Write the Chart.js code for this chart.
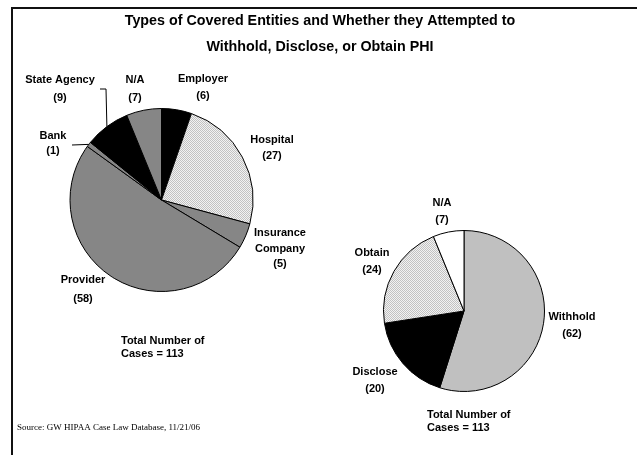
<!DOCTYPE html>
<html>
<head>
<meta charset="utf-8">
<script src="https://cdn.jsdelivr.net/npm/chart.js@4.4.0/dist/chart.umd.min.js"></script>
<style>
  html, body { margin: 0; padding: 0; background: #fff; }
  #wrap { position: relative; width: 637px; height: 455px; overflow: hidden; }
  #wrap canvas { position: absolute; left: 0; top: 0; }
  #frame { position: absolute; left: 11px; top: 7px; width: 700px; height: 500px;
           border-top: 2px solid #111; border-left: 2px solid #111; }
</style>
</head>
<body>
<div id="wrap">
  <div id="frame"></div>
  <canvas id="entityChart" width="637" height="455"></canvas>
  <canvas id="actionChart" width="637" height="455"></canvas>
</div>
<script>
// Data
const entityLabels = ["Employer", "Hospital", "Insurance Company", "Provider", "Bank", "State Agency", "N/A"];
const entityCounts = [6, 27, 5, 58, 1, 9, 7];
const actionLabels = ["Withhold", "Disclose", "Obtain", "N/A"];
const actionCounts = [62, 20, 24, 7];
const titleLines = ["Types of Covered Entities and Whether they Attempted to", "Withhold, Disclose, or Obtain PHI"];
const totalLines = ["Total Number of", "Cases = 113"];
const sourceText = "Source: GW HIPAA Case Law Database, 11/21/06";

// dotted fill used for Hospital / Obtain
function makeDots() {
    const c = document.createElement("canvas");
    c.width = 2; c.height = 2;
    const g = c.getContext("2d");
    g.fillStyle = "#f2f2f2";
    g.fillRect(0, 0, 2, 2);
    g.fillStyle = "#c2c2c2";
    g.fillRect(0, 0, 1, 1);
    g.fillRect(1, 1, 1, 1);
    return g.createPattern(c, "repeat");
}
const dots = makeDots();

const entityColors = ["#000000", dots, "#868686", "#868686", "#868686", "#000000", "#868686"];
const actionColors = ["#c0c0c0", "#000000", dots, "#ffffff"];

// label placement (center x, first line y, line gap)
const entityText = [
    { lines: ["Employer", "(6)"], x: 203, y: 79, gap: 17 },
    { lines: ["Hospital", "(27)"], x: 272, y: 140, gap: 16 },
    { lines: ["Insurance", "Company", "(5)"], x: 280, y: 233, gap: 15.5 },
    { lines: ["Provider", "(58)"], x: 83, y: 280, gap: 19 },
    { lines: ["Bank", "(1)"], x: 53, y: 136, gap: 15 },
    { lines: ["State Agency", "(9)"], x: 60, y: 80, gap: 18 },
    { lines: ["N/A", "(7)"], x: 135, y: 80, gap: 18 }
];
const actionText = [
    { lines: ["Withhold", "(62)"], x: 572, y: 317, gap: 17 },
    { lines: ["Disclose", "(20)"], x: 375, y: 372, gap: 17 },
    { lines: ["Obtain", "(24)"], x: 372, y: 253, gap: 17 },
    { lines: ["N/A", "(7)"], x: 442, y: 203, gap: 17 }
];
// leader lines: index of slice, points leading to the slice edge
const entityLeaders = [
    { index: 5, points: [[100, 89], [106, 89]] },
    { index: 4, points: [[72, 145]] }
];

const LABEL_FONT = "bold 11px 'Liberation Sans', Arial, sans-serif";

function drawLines(ctx, items) {
    ctx.save();
    ctx.fillStyle = "#000";
    ctx.font = LABEL_FONT;
    ctx.textAlign = "center";
    ctx.textBaseline = "middle";
    items.forEach(t => {
        t.lines.forEach((s, i) => ctx.fillText(s, t.x, t.y + i * t.gap));
    });
    ctx.restore();
}

function drawTotal(ctx, x, y) {
    ctx.save();
    ctx.fillStyle = "#000";
    ctx.font = LABEL_FONT;
    ctx.textAlign = "left";
    ctx.textBaseline = "middle";
    totalLines.forEach((s, i) => ctx.fillText(s, x, y + i * 12.5));
    ctx.restore();
}

const entityPlugin = {
    id: "entityText",
    afterDraw(chart) {
        const ctx = chart.ctx;
        // title
        ctx.save();
        ctx.fillStyle = "#000";
        ctx.font = "bold 14.3px 'Liberation Sans', Arial, sans-serif";
        ctx.textAlign = "center";
        ctx.textBaseline = "middle";
        ctx.fillText(titleLines[0], 320, 21);
        ctx.fillText(titleLines[1], 320, 47);
        // source
        ctx.font = "9px 'Liberation Serif', 'Times New Roman', serif";
        ctx.textAlign = "left";
        ctx.fillText(sourceText, 17, 428);
        ctx.restore();

        drawLines(ctx, entityText);
        drawTotal(ctx, 121, 341);

        // leader lines to slice edges
        const meta = chart.getDatasetMeta(0);
        ctx.save();
        ctx.strokeStyle = "#000";
        ctx.lineWidth = 1;
        entityLeaders.forEach(l => {
            const arc = meta.data[l.index];
            const p = arc.getProps(["x", "y", "startAngle", "endAngle", "outerRadius"], true);
            const mid = (p.startAngle + p.endAngle) / 2;
            const ex = p.x + Math.cos(mid) * p.outerRadius;
            const ey = p.y + Math.sin(mid) * p.outerRadius;
            ctx.beginPath();
            ctx.moveTo(l.points[0][0], l.points[0][1]);
            l.points.slice(1).forEach(pt => ctx.lineTo(pt[0], pt[1]));
            ctx.lineTo(ex, ey);
            ctx.stroke();
        });
        ctx.restore();
    }
};

const actionPlugin = {
    id: "actionText",
    afterDraw(chart) {
        drawLines(chart.ctx, actionText);
        drawTotal(chart.ctx, 427, 415);
    }
};

function pieOptions(padding) {
    return {
        responsive: false,
        animation: false,
        events: [],
        layout: { padding: padding },
        plugins: { legend: { display: false }, tooltip: { enabled: false } }
    };
}

new Chart(document.getElementById("entityChart"), {
    type: "pie",
    data: {
        labels: entityLabels,
        datasets: [{
            data: entityCounts,
            backgroundColor: entityColors,
            borderColor: "#000",
            borderWidth: 1,
            hoverBorderWidth: 1
        }]
    },
    options: pieOptions({ left: 69.5, right: 383.5, top: 108, bottom: 163 }),
    plugins: [entityPlugin]
});

new Chart(document.getElementById("actionChart"), {
    type: "pie",
    data: {
        labels: actionLabels,
        datasets: [{
            data: actionCounts,
            backgroundColor: actionColors,
            borderColor: "#000",
            borderWidth: 1,
            hoverBorderWidth: 1
        }]
    },
    options: pieOptions({ left: 383, right: 92, top: 230, bottom: 63 }),
    plugins: [actionPlugin]
});
</script>
</body>
</html>
